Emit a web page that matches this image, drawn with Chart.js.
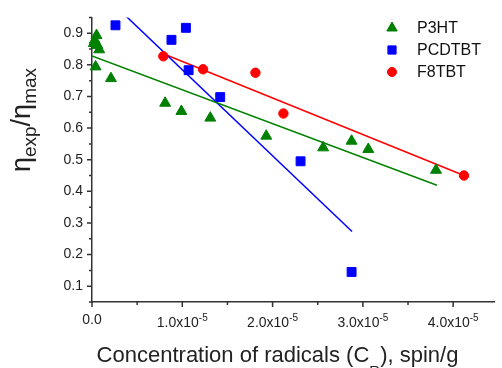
<!DOCTYPE html>
<html><head><meta charset="utf-8">
<script src="https://cdn.jsdelivr.net/npm/chart.js@4.4.1/dist/chart.umd.min.js"></script>
<style>html,body{margin:0;padding:0;background:#fff}#wrap{width:502px;height:368px}</style>
</head><body><div id="wrap"><canvas id="c" width="502" height="368"></canvas></div>
<script>
// ---- data ----
const p3htX = [0.05e-5, 0.03e-5, 0.06e-5, 0.08e-5, 0.02e-5, 0.04e-5, 0.21e-5, 0.81e-5, 0.99e-5, 1.31e-5, 1.93e-5, 2.56e-5, 2.875e-5, 3.06e-5, 3.81e-5];
const p3htY = [0.893, 0.878, 0.862, 0.848, 0.868, 0.794, 0.757, 0.679, 0.653, 0.632, 0.575, 0.538, 0.559, 0.533, 0.467];
const pcdtbtX = [0.26e-5, 0.88e-5, 1.04e-5, 1.07e-5, 1.42e-5, 2.31e-5, 2.875e-5];
const pcdtbtY = [0.925, 0.879, 0.917, 0.783, 0.698, 0.495, 0.145];
const f8tbtX = [0.79e-5, 1.23e-5, 1.81e-5, 2.12e-5, 4.12e-5];
const f8tbtY = [0.827, 0.786, 0.775, 0.646, 0.450];
// linear fits (end points)
const p3htFitX = [0, 3.82e-5];
const p3htFitY = [0.828, 0.419];
const pcdtbtFitX = [0.27e-5, 2.88e-5];
const pcdtbtFitY = [0.983, 0.273];
const f8tbtFitX = [0.79e-5, 4.12e-5];
const f8tbtFitY = [0.835, 0.450];
const seriesNames = ['P3HT', 'PCDTBT', 'F8TBT'];
const yTicks = [0.1, 0.2, 0.3, 0.4, 0.5, 0.6, 0.7, 0.8, 0.9];
const xMajorTicks = [0, 1e-5, 2e-5, 3e-5, 4e-5];
const xMinorTicks = [0.5e-5, 1.5e-5, 2.5e-5, 3.5e-5];
const yMinorTicks = [0.05, 0.15, 0.25, 0.35, 0.45, 0.55, 0.65, 0.75, 0.85, 0.95];
const xTickMantissa = ['0.0', '1.0x10', '2.0x10', '3.0x10', '4.0x10'];
const xTickExp = ['', '-5', '-5', '-5', '-5'];

const GREEN = 'rgb(0,128,0)', BLUE = 'rgb(0,0,255)', RED = 'rgb(255,0,0)';
const AX = '#333';
const FONT = 'Liberation Sans, Arial, sans-serif';
const zip = (xs, ys) => xs.map((x, i) => ({x, y: ys[i]}));

const styles = [
  {color: GREEN, pointStyle: 'triangle', radius: 6.3},
  {color: BLUE, pointStyle: 'rect', radius: 6.3},
  {color: RED, pointStyle: 'circle', radius: 4.7}
];

const decor = {
  id: 'decor',
  afterDraw(chart) {
    const ctx = chart.ctx, xs = chart.scales.x, ys = chart.scales.y;
    const ca = chart.chartArea;
    ctx.save();
    ctx.strokeStyle = AX; ctx.lineWidth = 1.5;
    // ticks
    ctx.beginPath();
    xMajorTicks.forEach(v => { const p = xs.getPixelForValue(v); ctx.moveTo(p, ca.bottom); ctx.lineTo(p, ca.bottom + 5); });
    xMinorTicks.forEach(v => { const p = xs.getPixelForValue(v); ctx.moveTo(p, ca.bottom); ctx.lineTo(p, ca.bottom + 3); });
    yTicks.forEach(v => { const p = ys.getPixelForValue(v); ctx.moveTo(ca.left, p); ctx.lineTo(ca.left - 5, p); });
    yMinorTicks.forEach(v => { const p = ys.getPixelForValue(v); ctx.moveTo(ca.left, p); ctx.lineTo(ca.left - 3, p); });
    ctx.stroke();
    // x tick labels with superscripts
    ctx.fillStyle = '#222';
    ctx.textBaseline = 'alphabetic';
    xMajorTicks.forEach((v, i) => {
      const p = xs.getPixelForValue(v);
      ctx.font = '14px ' + FONT;
      const w1 = ctx.measureText(xTickMantissa[i]).width;
      ctx.font = '10px ' + FONT;
      const w2 = xTickExp[i] ? ctx.measureText(xTickExp[i]).width : 0;
      const start = p - (w1 + w2) / 2;
      ctx.font = '14px ' + FONT;
      ctx.textAlign = 'left';
      const base = xTickExp[i] ? ca.bottom + 25 : ca.bottom + 21.5;
      ctx.fillText(xTickMantissa[i], start, base);
      if (xTickExp[i]) { ctx.font = '10px ' + FONT; ctx.fillText(xTickExp[i], start + w1, base - 6.5); }
    });
    // x axis title
    const parts = [['Concentration of radicals (C', 22, 0], ['R', 15, 14], ['), spin/g', 22, 0]];
    let tw = 0;
    parts.forEach(pt => { ctx.font = pt[1] + 'px ' + FONT; tw += ctx.measureText(pt[0]).width; });
    let cx = 277.5 - tw / 2;
    parts.forEach(pt => { ctx.font = pt[1] + 'px ' + FONT; ctx.fillText(pt[0], cx, 362 + pt[2]); cx += ctx.measureText(pt[0]).width; });
    // y axis title (rotated)
    ctx.save();
    ctx.translate(30, 120);
    ctx.rotate(-Math.PI / 2);
    const yp = [['\u03b7', 27, 0], ['exp', 19, 6], ['/', 27, 0], ['\u03b7', 27, 0], ['max', 19, 6]];
    let tw2 = 0;
    yp.forEach(pt => { ctx.font = pt[1] + 'px ' + FONT; tw2 += ctx.measureText(pt[0]).width; });
    let yx = -tw2 / 2;
    yp.forEach(pt => { ctx.font = pt[1] + 'px ' + FONT; ctx.fillText(pt[0], yx, pt[2]); yx += ctx.measureText(pt[0]).width; });
    ctx.restore();
    ctx.restore();
  }
};

const legendPlugin = {
  id: 'legendDraw',
  afterDraw(chart) {
    const ctx = chart.ctx;
    const rows = [28, 50, 72];
    ctx.save();
    seriesNames.forEach((name, i) => {
      const st = styles[i];
      const r = i === 0 ? 6 : (i === 1 ? 5.8 : 4.5);
      ctx.fillStyle = st.color; ctx.strokeStyle = st.color; ctx.lineWidth = 1;
      Chart.helpers.drawPoint(ctx, {pointStyle: st.pointStyle, radius: r, borderWidth: 1}, 392, rows[i]);
      ctx.fillStyle = '#111';
      ctx.font = '16px ' + FONT;
      ctx.textAlign = 'left'; ctx.textBaseline = 'middle';
      ctx.fillText(name, 417, rows[i] + 1);
    });
    ctx.restore();
  }
};

const scatterSet = (label, xs, ys, st) => ({
  type: 'scatter', label, data: zip(xs, ys), clip: false,
  pointStyle: st.pointStyle, pointRadius: st.radius, pointHoverRadius: st.radius,
  backgroundColor: st.color, borderColor: st.color, borderWidth: 1, order: 1
});
const fitSet = (xs, ys, color) => ({
  type: 'line', label: '', data: zip(xs, ys), borderColor: color, borderWidth: 1.5,
  pointRadius: 0, fill: false, tension: 0, order: 2
});

new Chart(document.getElementById('c'), {
  type: 'scatter',
  data: {
    datasets: [
      fitSet(p3htFitX, p3htFitY, GREEN),
      fitSet(pcdtbtFitX, pcdtbtFitY, BLUE),
      fitSet(f8tbtFitX, f8tbtFitY, RED),
      scatterSet(seriesNames[0], p3htX, p3htY, styles[0]),
      scatterSet(seriesNames[1], pcdtbtX, pcdtbtY, styles[1]),
      scatterSet(seriesNames[2], f8tbtX, f8tbtY, styles[2])
    ]
  },
  options: {
    responsive: false, animation: false, devicePixelRatio: 1,
    layout: {padding: {top: 13, right: 0, left: 0, bottom: 0}},
    plugins: {legend: {display: false}, tooltip: {enabled: false}},
    scales: {
      x: {
        type: 'linear', min: 0, max: 4.46e-5,
        grid: {display: false, drawTicks: false},
        border: {display: true, color: AX, width: 1.5},
        ticks: {display: false},
        afterFit: s => { s.height = 66; }
      },
      y: {
        type: 'linear', min: 0.05, max: 0.95,
        grid: {display: false, drawTicks: false},
        border: {display: true, color: AX, width: 1.5},
        afterBuildTicks: s => { s.ticks = yTicks.map(v => ({value: v})); },
        ticks: {padding: 9, color: '#222', font: {family: FONT, size: 14}, callback: v => Number(v).toFixed(1)},
        afterFit: s => { s.width = 92; }
      }
    }
  },
  plugins: [decor, legendPlugin]
});
</script></body></html>
